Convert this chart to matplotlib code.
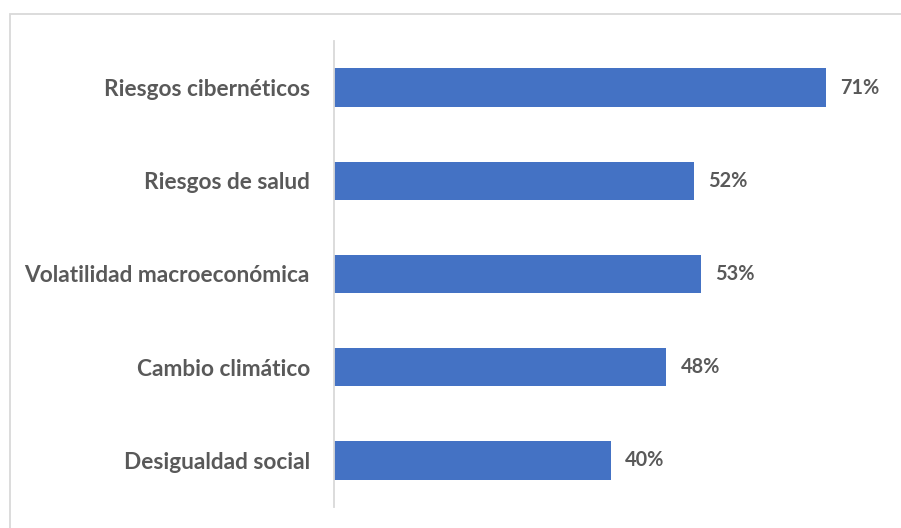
import matplotlib
matplotlib.use('Agg')
import matplotlib.pyplot as plt
from matplotlib.patches import Rectangle

# Data (top to bottom as shown)
categories = ['Riesgos cibernéticos', 'Riesgos de salud',
              'Volatilidad macroeconómica', 'Cambio climático',
              'Desigualdad social']
values = [71, 52, 53, 48, 40]

W, H = 901, 528
BAR_COLOR = '#4472C4'
TEXT_COLOR = '#595959'
FONT = 'Lato'

fig = plt.figure(figsize=(W / 100, H / 100), dpi=100, facecolor='white')

# light frame of the chart area (only top and left edges visible)
fig.patches.append(Rectangle((9.5 / W, -0.1), 1.2, (H - 14) / H + 0.1,
                             transform=fig.transFigure, fill=False,
                             edgecolor='#d9d9d9', lw=1.3))

ax = fig.add_axes([333.5 / W, (H - 507) / H, 560 / W, 466 / H])
ypos = list(range(len(categories)))[::-1]
ax.barh(ypos, values, height=0.41, color=BAR_COLOR)

ax.set_xlim(0, 80.8)
ax.set_ylim(-0.5, len(categories) - 0.5)
ax.set_yticks(ypos)
ax.set_yticklabels(categories, fontsize=16.3, fontweight='bold',
                   color=TEXT_COLOR, family=FONT)
ax.tick_params(axis='y', length=0, pad=17)
ax.set_xticks([])

for s in ['top', 'right', 'bottom']:
    ax.spines[s].set_visible(False)
ax.spines['left'].set_color('#d9d9d9')
ax.spines['left'].set_linewidth(1.3)

for y, v in zip(ypos, values):
    ax.text(v + 2.1, y, f'{v}%', va='center', ha='left', fontsize=14.3,
            fontweight='bold', color=TEXT_COLOR, family=FONT)

fig.savefig('out.png', dpi=100, facecolor='white')
